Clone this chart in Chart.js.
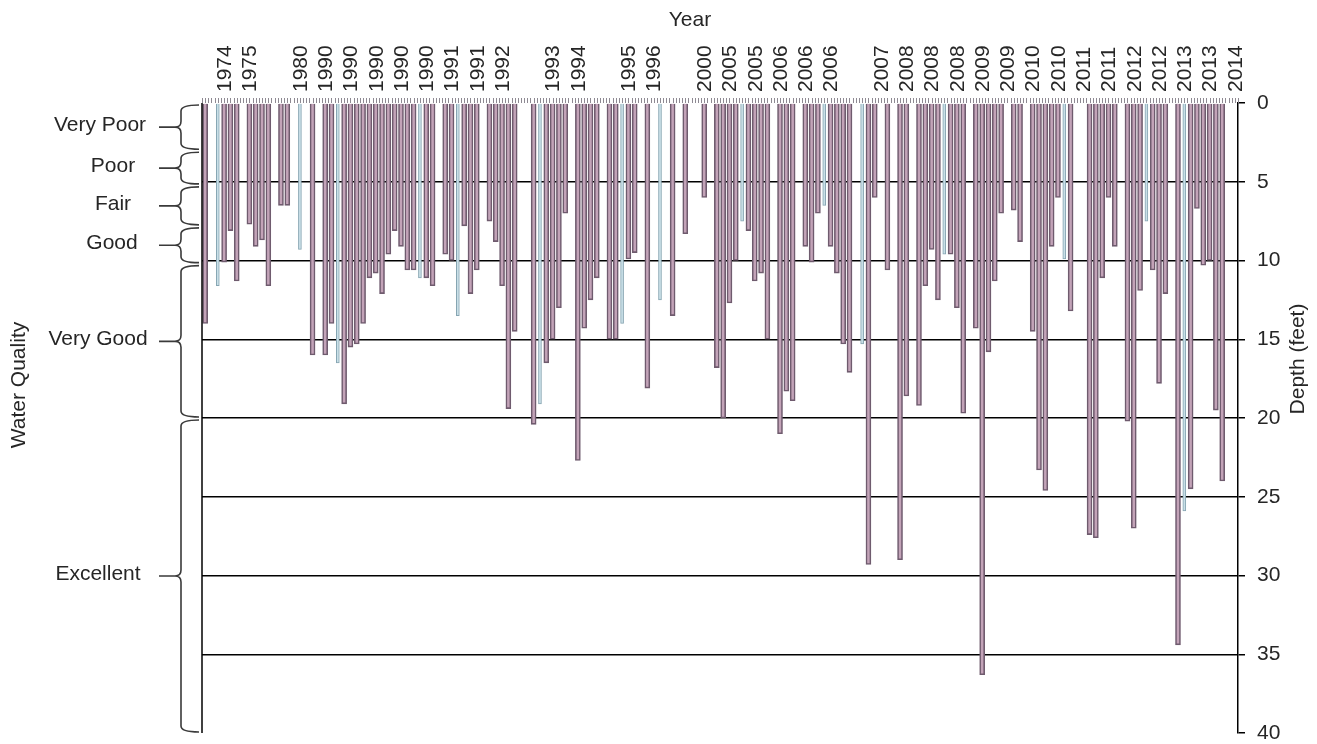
<!DOCTYPE html>
<html>
<head>
<meta charset="utf-8">
<script src="https://cdn.jsdelivr.net/npm/chart.js@4.4.1/dist/chart.umd.min.js"></script>
<style>
  html, body { margin: 0; padding: 0; background: #fff; }
  #wrap { width: 1317px; height: 744px; }
</style>
</head>
<body>
<div id="wrap"><canvas id="c" width="1317" height="744"></canvas></div>
<script>
// Year shown on every fourth sampling slot ('' = no label)
const tickYears = [
  '1974', '1975', '', '1980', '1990', '1990', '1990', '1990', '1990', '1991', '1991',
  '1992', '', '1993', '1994', '', '1995', '1996', '', '2000', '2005', '2005',
  '2006', '2006', '2006', '', '2007', '2008', '2008', '2008', '2009', '2009',
  '2010', '2010', '2011', '2011', '2012', '2012', '2013', '2013', '2014'
];

// Secchi depth (feet) per sampling slot, null = no reading in that slot
const depths = [
  14.0, null, 11.6, 10.1, 8.1, 11.3, null, 7.7, 9.1, 8.7,
  11.6, null, 6.5, 6.5, null, 9.3, null, 16.0, null, 16.0,
  14.0, 16.5, 19.1, 15.5, 15.3, 14.0, 11.1, 10.8, 12.1, 9.6,
  8.1, 9.1, 10.6, 10.6, 11.1, 11.1, 11.6, null, 9.6, 10.0,
  13.5, 7.8, 12.1, 10.6, null, 7.5, 8.8, 11.6, 19.4, 14.5,
  null, null, 20.4, 19.1, 16.5, 15.0, 13.0, 7.0, null, 22.7,
  14.3, 12.5, 11.1, null, 15.0, 15.0, 14.0, 9.9, 9.5, null,
  18.1, null, 12.5, null, 13.5, null, 8.3, null, null, 6.0,
  null, 16.8, 20.0, 12.7, 10.0, 7.5, 8.1, 11.3, 10.8, 15.0,
  null, 21.0, 18.3, 18.9, null, 9.1, 10.1, 7.0, 6.5, 9.1,
  10.8, 15.3, 17.1, null, 15.3, 29.3, 6.0, null, 10.6, null,
  29.0, 18.6, null, 19.2, 11.6, 9.3, 12.5, 9.6, 9.6, 13.0,
  19.7, null, 14.3, 36.3, 15.8, 11.3, 7.0, null, 6.8, 8.8,
  null, 14.5, 23.3, 24.6, 9.1, 6.0, 9.9, 13.2, null, null,
  27.4, 27.6, 11.1, 6.0, 9.1, null, 20.2, 27.0, 11.9, 7.5,
  10.6, 17.8, 12.1, null, 34.4, 25.9, 24.5, 6.7, 10.3, 10.0,
  19.5, 24.0, null, null
];

// Slots drawn as the thin light-blue readings
const lightSlots = [2, 15, 21, 34, 40, 53, 66, 72, 85, 98, 104, 117, 136, 149, 155];

// Water quality classes and their depth limits (feet)
const qualityNames = ['Very Poor', 'Poor', 'Fair', 'Good', 'Very Good', 'Excellent'];
const qualityEdges = [0, 3, 5.2, 7.8, 10.2, 20, 40];

const depthTicks = [0, 5, 10, 15, 20, 25, 30, 35, 40];

// ---- derived tables ----
const labels = depths.map((_, i) => (i % 4 === 3 ? tickYears[(i - 3) / 4] : ''));
const mainData = depths.map((v, i) => (lightSlots.includes(i) ? null : v));
const lightData = depths.map((v, i) => (lightSlots.includes(i) ? v : null));

const FONT = "'Liberation Sans', Arial, sans-serif";
const FSIZE = 21;
const TEXT = '#262626';
const qualityLabelX = [100, 113, 113, 112, 98, 98];

function brace(ctx, y0, y1) {
  const xr = 199, xs = 181, xm = 175, xt = 159;
  const ym = (y0 + y1) / 2, r = Math.min(6, (y1 - y0) / 4);
  ctx.beginPath();
  ctx.moveTo(xr, y0);
  ctx.quadraticCurveTo(xs, y0, xs, y0 + r);
  ctx.lineTo(xs, ym - r);
  ctx.quadraticCurveTo(xs, ym, xm, ym);
  ctx.quadraticCurveTo(xs, ym, xs, ym + r);
  ctx.lineTo(xs, y1 - r);
  ctx.quadraticCurveTo(xs, y1, xr, y1);
  ctx.moveTo(xm, ym);
  ctx.lineTo(xt, ym);
  ctx.stroke();
}

const decor = {
  id: 'decor',
  afterDatasetsDraw(chart) {
    const { ctx, chartArea: a, scales: { x, y } } = chart;
    ctx.save();

    // left frame line
    ctx.strokeStyle = '#000';
    ctx.lineWidth = 1.5;
    ctx.beginPath();
    ctx.moveTo(a.left, a.top);
    ctx.lineTo(a.left, a.bottom);
    ctx.stroke();

    // small tick marks along the year axis (slot edges and centres)
    const half = (x.getPixelForValue(1) - x.getPixelForValue(0)) / 2;
    ctx.strokeStyle = '#8e8992';
    ctx.lineWidth = 1;
    ctx.beginPath();
    for (let k = 0; k <= depths.length * 2; k++) {
      const px = Math.round(a.left + k * half) + 0.5;
      ctx.moveTo(px, a.top - 5);
      ctx.lineTo(px, a.top);
    }
    ctx.stroke();

    // water quality braces and names
    ctx.strokeStyle = '#3a3a3a';
    ctx.lineWidth = 1.6;
    ctx.fillStyle = TEXT;
    ctx.font = FSIZE + 'px ' + FONT;
    ctx.textAlign = 'center';
    ctx.textBaseline = 'middle';
    for (let k = 0; k < qualityNames.length; k++) {
      const y0 = y.getPixelForValue(qualityEdges[k]) + 2;
      const y1 = y.getPixelForValue(qualityEdges[k + 1]) - 1;
      brace(ctx, y0, y1);
      ctx.fillText(qualityNames[k], qualityLabelX[k], (y0 + y1) / 2 - 2);
    }

    // axis titles
    ctx.fillText('Year', 690, 20);
    ctx.save();
    ctx.translate(19, 385);
    ctx.rotate(-Math.PI / 2);
    ctx.fillText('Water Quality', 0, 0);
    ctx.restore();
    ctx.save();
    ctx.translate(1298, 359);
    ctx.rotate(-Math.PI / 2);
    ctx.fillText('Depth (feet)', 0, 0);
    ctx.restore();

    ctx.restore();
  }
};

new Chart(document.getElementById('c'), {
  type: 'bar',
  data: {
    labels: labels,
    datasets: [
      {
        label: 'Secchi depth',
        data: mainData,
        backgroundColor: '#c3a3b8',
        borderColor: '#6f5b6e',
        borderWidth: 1.6,
        barThickness: 5,
        grouped: false
      },
      {
        label: 'Secchi depth (light)',
        data: lightData,
        backgroundColor: '#c9dfe7',
        borderColor: '#86a5b2',
        borderWidth: 1,
        barThickness: 3,
        grouped: false
      }
    ]
  },
  options: {
    responsive: false,
    animation: false,
    layout: { padding: { left: 202, top: 0, right: 0, bottom: 11 } },
    plugins: { legend: { display: false }, tooltip: { enabled: false } },
    scales: {
      x: {
        position: 'top',
        offset: true,
        grid: { display: false, drawTicks: false },
        border: { display: false },
        ticks: {
          autoSkip: false,
          minRotation: 90,
          maxRotation: 90,
          padding: 11,
          labelOffset: FSIZE * 1.2 + 1,
          color: TEXT,
          font: { family: FONT, size: FSIZE, lineHeight: 1.2 },
          callback: (v, i) => labels[i]
        },
        afterFit: s => {
          s.height = 103;
          s.paddingLeft = 0;
          s.paddingRight = 0;
        }
      },
      y: {
        position: 'right',
        reverse: true,
        min: 0,
        max: 40,
        afterBuildTicks: s => { s.ticks = depthTicks.map(v => ({ value: v })); },
        ticks: { padding: 12, color: TEXT, font: { family: FONT, size: FSIZE } },
        grid: {
          color: c => (c.tick && c.tick.value > 0 && c.tick.value < 40 ? '#000' : 'rgba(0,0,0,0)'),
          lineWidth: 1.5,
          tickColor: '#000',
          tickLength: 7
        },
        border: { display: true, color: '#000', width: 1.5 },
        afterFit: s => {
          s.width = 79;
          s.paddingTop = 0;
          s.paddingBottom = 0;
        }
      }
    }
  },
  plugins: [decor]
});
</script>
</body>
</html>
